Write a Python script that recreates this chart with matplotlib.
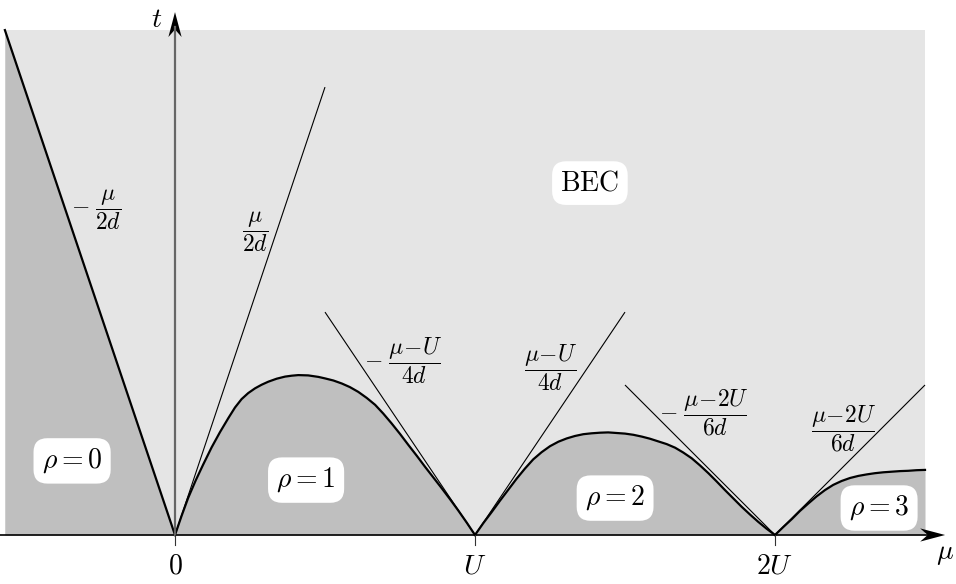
import matplotlib
matplotlib.use("Agg")
import matplotlib.pyplot as plt
from matplotlib.patches import Polygon

plt.rcParams['mathtext.fontset'] = 'cm'
plt.rcParams['font.family'] = ['DejaVu Serif']

# mu in units of U, t in the same drawing scale
mu_min, mu_max, t_max = -0.567, 2.5, 1.683

# Mott lobe boundaries
mu_lobe1 = [0.0, 0.022, 0.044, 0.069, 0.094, 0.122, 0.15, 0.178, 0.2, 0.222, 0.244,
            0.267, 0.289, 0.311, 0.339, 0.367, 0.389, 0.411, 0.444, 0.478,
            0.5, 0.528, 0.556, 0.583, 0.611, 0.639, 0.667, 0.694, 0.722, 0.75,
            0.778, 0.806, 0.833, 0.861, 0.889, 0.917, 0.944, 0.972, 1.0]
t_lobe1 = [0.0, 0.064, 0.124, 0.182, 0.235, 0.292, 0.343, 0.39, 0.425, 0.453, 0.473,
           0.489, 0.501, 0.511, 0.521, 0.528, 0.531, 0.533, 0.532, 0.527,
           0.522, 0.515, 0.505, 0.493, 0.477, 0.457, 0.434, 0.405, 0.372, 0.337,
           0.3, 0.264, 0.228, 0.192, 0.156, 0.119, 0.082, 0.042, 0.0]

mu_lobe2 = [1.0, 1.028, 1.056, 1.083, 1.111, 1.139, 1.167, 1.194, 1.222, 1.25,
            1.278, 1.306, 1.333, 1.361, 1.389, 1.417, 1.444, 1.472, 1.5,
            1.528, 1.556, 1.583, 1.611, 1.639, 1.667, 1.694, 1.722, 1.75,
            1.778, 1.806, 1.833, 1.861, 1.889, 1.917, 1.944, 1.972, 2.0]
t_lobe2 = [0.0, 0.04, 0.077, 0.114, 0.151, 0.188, 0.222, 0.252, 0.276, 0.296,
           0.311, 0.322, 0.33, 0.336, 0.339, 0.341, 0.342, 0.34, 0.338,
           0.334, 0.328, 0.321, 0.312, 0.303, 0.291, 0.275, 0.256, 0.232,
           0.206, 0.178, 0.15, 0.122, 0.094, 0.068, 0.044, 0.021, 0.0]

mu_lobe3 = [2.0, 2.028, 2.056, 2.083, 2.111, 2.139, 2.167, 2.194, 2.222, 2.25,
            2.278, 2.306, 2.333, 2.361, 2.389, 2.417, 2.444, 2.472, 2.5]
t_lobe3 = [0.0, 0.027, 0.053, 0.08, 0.105, 0.129, 0.15, 0.167, 0.18, 0.19,
           0.197, 0.202, 0.206, 0.209, 0.211, 0.213, 0.214, 0.216, 0.217]

# boundary of rho = 0 and the small-t asymptotes
mu_vac = [mu_min, 0.0]
t_vac = [t_max, 0.0]
asym_mu = [(0.0, 0.5), (0.5, 1.0), (1.0, 1.5), (1.5, 2.0), (2.0, 2.5)]
asym_t = [(0.0, 1.493), (0.743, 0.0), (0.0, 0.743), (0.5, 0.0), (0.0, 0.5)]

asym_labels = [r'$-\;\dfrac{\mu}{2d}$', r'$\dfrac{\mu}{2d}$', r'$-\;\dfrac{\mu\!-\!U}{4d}$',
               r'$\dfrac{\mu\!-\!U}{4d}$', r'$-\;\dfrac{\mu\!-\!2U}{6d}$',
               r'$\dfrac{\mu\!-\!2U}{6d}$']
asym_label_pos = [(-0.263, 1.083), (0.267, 1.01), (0.76, 0.58), (1.253, 0.557),
                  (1.763, 0.407), (2.23, 0.353)]

phase_labels = [r'$\rho=0$', r'$\rho=1$', r'$\rho=2$', r'$\rho=3$', r'$\mathrm{BEC}$']
phase_pos = [(-0.343, 0.247), (0.437, 0.183), (1.467, 0.123), (2.347, 0.09),
             (1.383, 1.173)]

tick_pos = [0, 1, 2]
tick_labels = [r'$0$', r'$U$', r'$2U$']

light = '#e5e5e5'
dark = '#bfbfbf'

fig = plt.figure(figsize=(9.56, 5.84), dpi=100)
ax = fig.add_axes([0, 0, 1, 1])
ax.set_xlim(-175 / 300, 781 / 300)
ax.set_ylim(-49 / 300, 535 / 300)
ax.axis('off')

# background (BEC) and insulating regions
ax.fill_between([mu_min, mu_max], 0, t_max, color=light, lw=0)
ax.fill_between(mu_vac[::-1], 0, t_vac[::-1], color=dark, lw=0)
ax.fill_between(mu_lobe1, 0, t_lobe1, color=dark, lw=0)
ax.fill_between(mu_lobe2, 0, t_lobe2, color=dark, lw=0)
ax.fill_between(mu_lobe3, 0, t_lobe3, color=dark, lw=0)

for m, t in zip(asym_mu, asym_t):
    ax.plot(m, t, color='k', lw=0.8, solid_capstyle='butt')

ax.plot(mu_vac, t_vac, color='k', lw=1.6)
for m, t in [(mu_lobe1, t_lobe1), (mu_lobe2, t_lobe2), (mu_lobe3, t_lobe3)]:
    ax.plot(m, t, color='k', lw=1.6, solid_joinstyle='round')

# axes with arrow heads
x_end, t_end = 2.567, 1.743
ax.plot([-0.583, x_end - 0.05], [0, 0], color='k', lw=1.2)
ax.plot([0, 0], [0, t_end - 0.05], color='#666666', lw=1.6)
hl, hw, notch = 0.083, 0.022, 0.025
ax.add_patch(Polygon([(x_end, 0), (x_end - hl, hw), (x_end - hl + notch, 0),
                      (x_end - hl, -hw)], closed=True, color='k', lw=0))
ax.add_patch(Polygon([(0, t_end), (hw, t_end - hl), (0, t_end - hl + notch),
                      (-hw, t_end - hl)], closed=True, color='k', lw=0))

for p, lab in zip(tick_pos, tick_labels):
    ax.plot([p, p], [0, -0.033], color='#333333', lw=0.8)
    ax.text(p, -0.06, lab, ha='center', va='top', fontsize=20)

ax.text(2.568, -0.062, r'$\mu$', ha='center', va='center', fontsize=20)
ax.text(-0.06, 1.717, r'$t$', ha='center', va='center', fontsize=20)

for (x, y), lab in zip(asym_label_pos, asym_labels):
    ax.text(x, y, lab, ha='center', va='center', fontsize=17)

for (x, y), lab in zip(phase_pos, phase_labels):
    ax.text(x, y, lab, ha='center', va='center', fontsize=20,
            bbox=dict(boxstyle='round,pad=0.3,rounding_size=0.5', fc='white', ec='none'))

fig.savefig('out.png', dpi=100)
